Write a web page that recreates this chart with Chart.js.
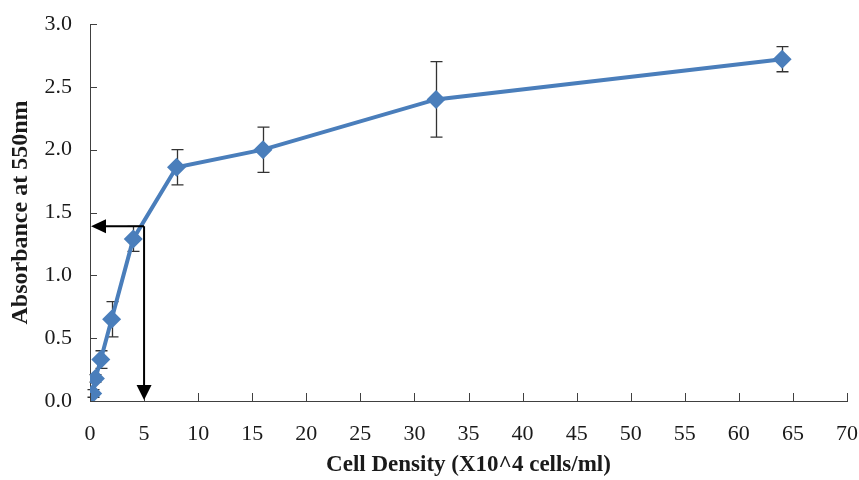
<!DOCTYPE html>
<html>
<head>
<meta charset="utf-8">
<script src="https://cdn.jsdelivr.net/npm/chart.js@4/dist/chart.umd.min.js"></script>
<style>
  html, body { margin: 0; padding: 0; background: #fff; }
  #wrap { width: 859px; height: 480px; }
</style>
</head>
<body>
<div id="wrap"><canvas id="c" width="859" height="480"></canvas></div>
<script>
const cellDensity = [0.25, 0.5, 1, 2, 4, 8, 16, 32, 64];
const absorbance = [0.06, 0.18, 0.33, 0.65, 1.29, 1.86, 2.00, 2.40, 2.72];
const errorBars = [0.03, 0.03, 0.07, 0.14, 0.10, 0.14, 0.18, 0.30, 0.10];
const xTickValues = [0, 5, 10, 15, 20, 25, 30, 35, 40, 45, 50, 55, 60, 65, 70];
const yTickValues = [0.0, 0.5, 1.0, 1.5, 2.0, 2.5, 3.0];
const readoutPoint = [5, 1.39];
const xTitle = 'Cell Density (X10^4 cells/ml)';
const yTitle = 'Absorbance at 550nm';

const FONT = "'Liberation Serif', 'Times New Roman', serif";
const TEXT = '#1a1a1a';
const AXIS = '#404040';
const BLUE = '#4a7ebb';

const errorBarPlugin = {
  id: 'errorBars',
  beforeDatasetsDraw(chart) {
    const ctx = chart.ctx, xs = chart.scales.x, ys = chart.scales.y;
    ctx.save();
    ctx.strokeStyle = '#333';
    ctx.lineWidth = 1.3;
    cellDensity.forEach((xv, i) => {
      const px = Math.round(xs.getPixelForValue(xv)) + 0.5;
      const top = ys.getPixelForValue(absorbance[i] + errorBars[i]);
      const bot = ys.getPixelForValue(Math.max(0, absorbance[i] - errorBars[i]));
      ctx.beginPath();
      ctx.moveTo(px, top); ctx.lineTo(px, bot);
      ctx.moveTo(px - 6, top); ctx.lineTo(px + 6, top);
      ctx.moveTo(px - 6, bot); ctx.lineTo(px + 6, bot);
      ctx.stroke();
    });
    ctx.restore();
  }
};

const axisTickPlugin = {
  id: 'innerTicks',
  afterDraw(chart) {
    const ctx = chart.ctx, xs = chart.scales.x, ys = chart.scales.y;
    const a = chart.chartArea;
    ctx.save();
    ctx.strokeStyle = AXIS;
    ctx.lineWidth = 1;
    ctx.beginPath();
    xTickValues.forEach(v => {
      const px = Math.round(xs.getPixelForValue(v)) + 0.5;
      ctx.moveTo(px, a.bottom); ctx.lineTo(px, a.bottom - 8);
    });
    yTickValues.forEach(v => {
      const py = Math.round(ys.getPixelForValue(v)) + 0.5;
      ctx.moveTo(a.left, py); ctx.lineTo(a.left + 7, py);
    });
    ctx.stroke();

    // read-out arrows
    const ax = xs.getPixelForValue(readoutPoint[0]);
    const ay = ys.getPixelForValue(readoutPoint[1]);
    const x0 = xs.getPixelForValue(0);
    const y0 = ys.getPixelForValue(0);
    ctx.strokeStyle = '#000';
    ctx.fillStyle = '#000';
    ctx.lineWidth = 2;
    ctx.beginPath();
    ctx.moveTo(ax, ay); ctx.lineTo(x0 + 14, ay);
    ctx.moveTo(ax, ay); ctx.lineTo(ax, y0 - 14);
    ctx.stroke();
    ctx.beginPath();
    ctx.moveTo(x0 + 1, ay); ctx.lineTo(x0 + 16, ay - 7); ctx.lineTo(x0 + 16, ay + 7); ctx.closePath();
    ctx.fill();
    ctx.beginPath();
    ctx.moveTo(ax, y0 - 1); ctx.lineTo(ax - 7.5, y0 - 16); ctx.lineTo(ax + 7.5, y0 - 16); ctx.closePath();
    ctx.fill();
    ctx.restore();
  }
};

new Chart(document.getElementById('c'), {
  type: 'line',
  data: {
    datasets: [{
      data: cellDensity.map((x, i) => ({ x, y: absorbance[i] })),
      borderColor: BLUE,
      backgroundColor: BLUE,
      borderWidth: 4,
      pointStyle: 'rectRot',
      pointRadius: 9.5,
      pointHoverRadius: 9.5,
      pointBorderWidth: 0,
      tension: 0
    }]
  },
  options: {
    responsive: false,
    animation: false,
    devicePixelRatio: 1,
    layout: { padding: { top: 24, right: 12, left: 0, bottom: 0 } },
    plugins: { legend: { display: false }, tooltip: { enabled: false } },
    scales: {
      x: {
        type: 'linear',
        min: 0, max: 70,
        afterBuildTicks(s) { s.ticks = xTickValues.map(v => ({ value: v })); },
        afterFit(s) { s.height = 79; s.paddingLeft = 0; s.paddingRight = 0; },
        grid: { display: false },
        border: { display: true, color: AXIS, width: 1 },
        ticks: { color: TEXT, font: { family: FONT, size: 22 }, padding: 12, maxRotation: 0, callback: v => String(v) },
        title: { display: true, text: xTitle, color: TEXT, font: { family: FONT, size: 23, weight: 'bold', lineHeight: 1.2 }, padding: 1 }
      },
      y: {
        type: 'linear',
        min: 0, max: 3,
        afterBuildTicks(s) { s.ticks = yTickValues.map(v => ({ value: v })); },
        afterFit(s) { s.width = 90; s.paddingTop = 0; s.paddingBottom = 0; },
        grid: { display: false },
        border: { display: true, color: AXIS, width: 1 },
        ticks: { color: TEXT, font: { family: FONT, size: 22 }, padding: 10, callback: v => Number(v).toFixed(1) },
        title: { display: true, text: yTitle, color: TEXT, font: { family: FONT, size: 24, weight: 'bold', lineHeight: 1.2 }, padding: 6 }
      }
    }
  },
  plugins: [errorBarPlugin, axisTickPlugin]
});
</script>
</body>
</html>
